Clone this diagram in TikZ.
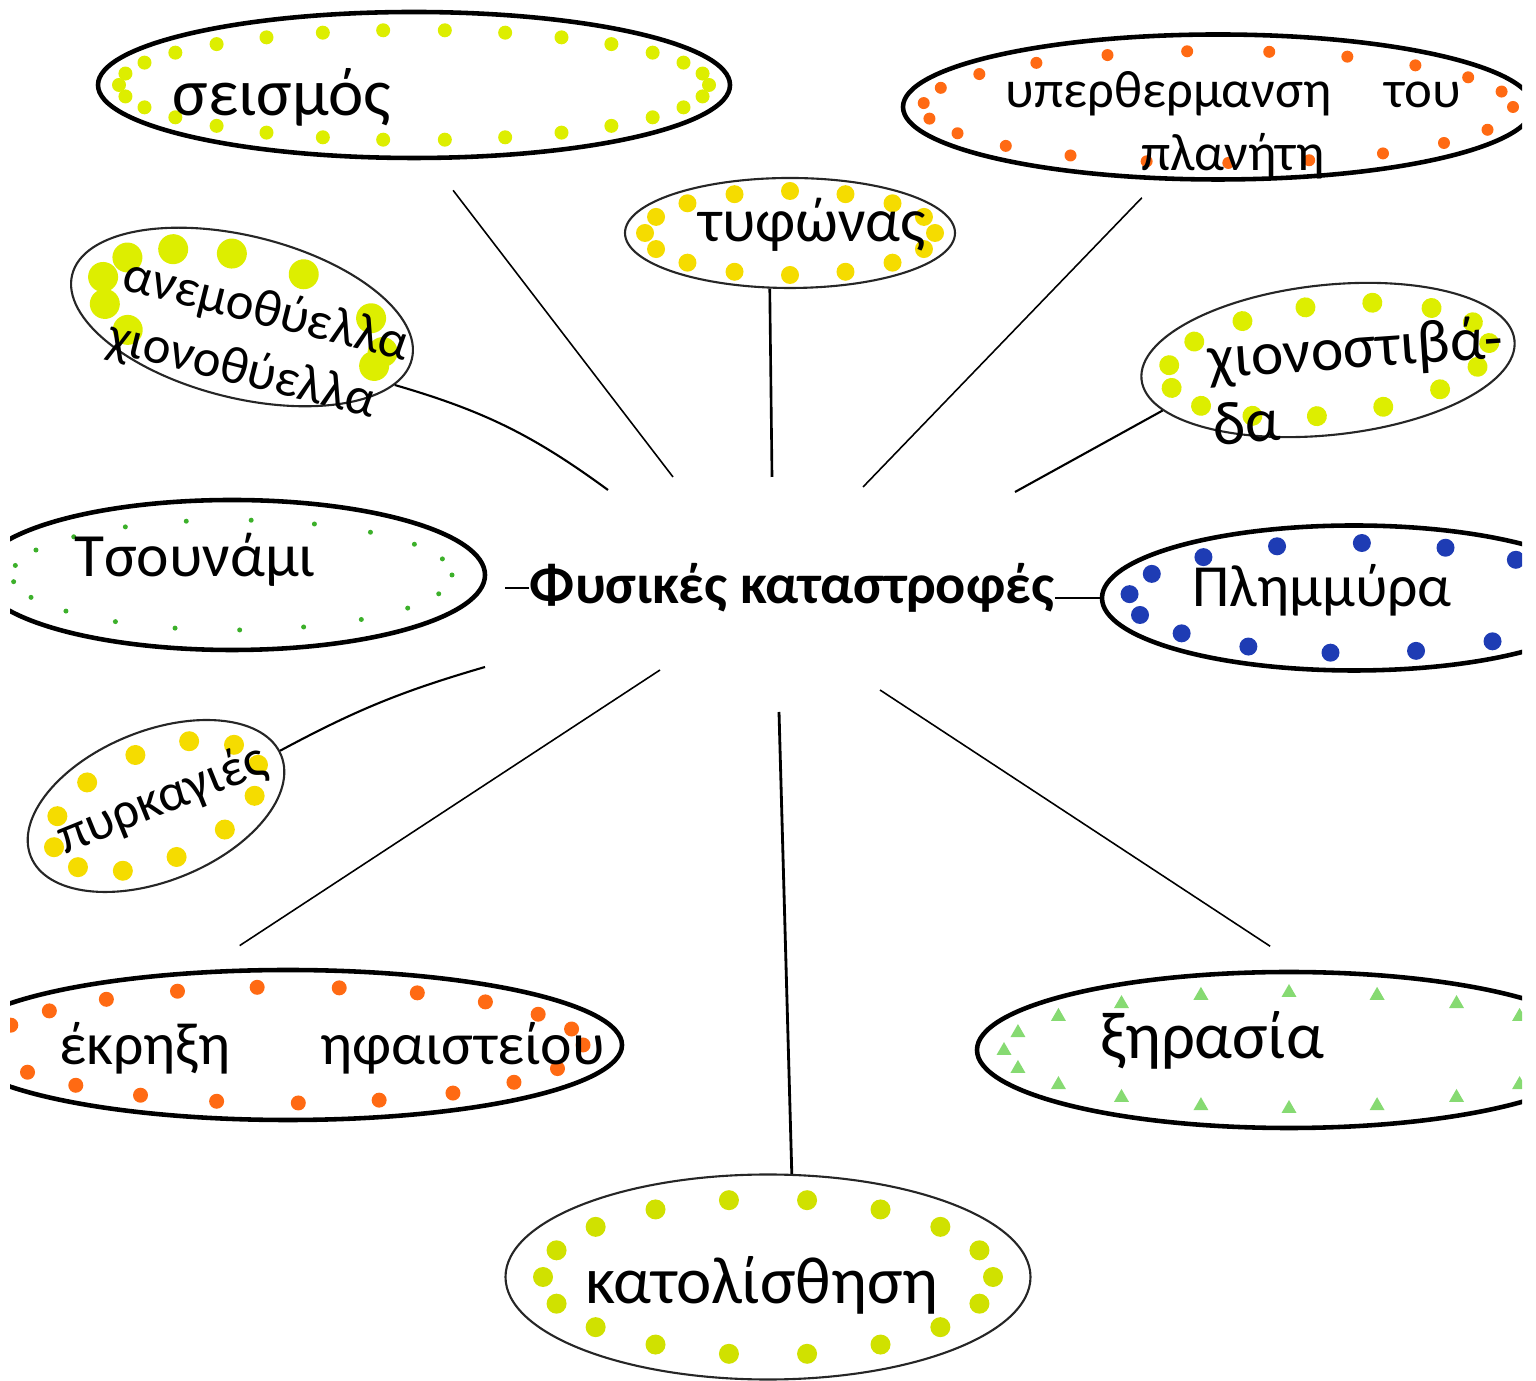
\documentclass[tikz,border=0pt]{standalone}
\usepackage{fontspec}
\setmainfont{Carlito}
\usetikzlibrary{shapes.geometric}

\definecolor{limedot}{HTML}{DDEE00}
\definecolor{yellowdot}{HTML}{F5DC00}
\definecolor{orangedot}{HTML}{FF6A13}
\definecolor{bluedot}{HTML}{1E3CB4}
\definecolor{greenspeck}{HTML}{3CB02A}
\definecolor{greentri}{HTML}{86DA72}

\tikzset{
    bubble/.style={ellipse, draw=black, line width=1.3pt, inner sep=0pt},
    thinbubble/.style={ellipse, draw=black!85, line width=0.6pt, inner sep=0pt},
    hand/.style={font=\fontsize{19}{23}\selectfont, inner sep=0pt, align=left},
    smallhand/.style={hand, font=\fontsize{15}{18}\selectfont},
    stroke/.style={draw=black, line width=0.45pt},
}

% ring of marker spots round a bubble
\newcommand{\spotring}[6]{%
    \begin{scope}[shift={(#1.center)}, rotate=#2]
        \foreach \a in {#5} \fill[#6] (\a:#3 and #4) circle;
    \end{scope}}

\begin{document}
\begin{tikzpicture}
    \useasboundingbox (0,0) rectangle (15.36,13.80);
    \clip (0.10,0) rectangle (15.22,13.80);

    \begin{scope}[every node/.style={bubble}]
        \node[minimum width=6.32cm, minimum height=1.46cm] (seismos) at (4.14,12.95) {};
        \node[minimum width=6.30cm, minimum height=1.45cm] (hyper) at (12.18,12.73) {};
        \node[minimum width=5.06cm, minimum height=1.50cm] (tsunami) at (2.32,8.05) {};
        \node[minimum width=5.04cm, minimum height=1.45cm] (plimm) at (13.54,7.82) {};
        \node[minimum width=6.68cm, minimum height=1.50cm] (ekrixi) at (2.88,3.35) {};
        \node[minimum width=6.24cm, minimum height=1.56cm] (xirasia) at (12.89,3.30) {};
    \end{scope}

    \begin{scope}[every node/.style={thinbubble}]
        \node[minimum width=3.30cm, minimum height=1.10cm] (tyfonas) at (7.90,11.47) {};
        \node[minimum width=3.50cm, minimum height=1.62cm, rotate=-14] (anemo) at (2.42,10.63) {};
        \node[minimum width=3.75cm, minimum height=1.50cm, rotate=6] (chion) at (13.28,10.20) {};
        \node[minimum width=2.70cm, minimum height=1.50cm, rotate=22] (pyrk) at (1.56,5.74) {};
        \node[minimum width=5.25cm, minimum height=2.05cm] (katol) at (7.68,1.03) {};
    \end{scope}

    % marker spots
    \spotring{seismos}{0}{2.95}{0.55}{0,12,...,348}{limedot, radius=0.07}
    \spotring{hyper}{0}{2.95}{0.56}{0,16,...,344}{orangedot, radius=0.06}
    \spotring{tyfonas}{0}{1.45}{0.42}{0,22.5,...,340}{yellowdot, radius=0.09}
    \spotring{anemo}{-14}{1.45}{0.60}{0,30,70,100,125,150,175,200,222,345}{limedot, radius=0.15}
    \spotring{chion}{6}{1.62}{0.55}{0,24,...,340}{limedot, radius=0.1}
    \spotring{tsunami}{0}{2.20}{0.55}{0,17,...,350}{greenspeck, radius=0.025}
    \spotring{plimm}{0}{2.25}{0.55}{0,22,...,340}{bluedot, radius=0.09}
    \spotring{pyrk}{22}{1.10}{0.55}{0,30,...,330}{yellowdot, radius=0.1}
    \spotring{ekrixi}{0}{2.95}{0.58}{0,16,...,344}{orangedot, radius=0.075}
    \spotring{katol}{0}{2.25}{0.78}{0,20,...,340}{yellowdot!85!green, radius=0.1}
    \begin{scope}[shift={(xirasia.center)}]
        \foreach \a in {0,18,...,342}
            \fill[greentri] (\a:2.85 and 0.58) ++(0,0.08) -- ++(-0.075,-0.13) -- ++(0.15,0) -- cycle;
    \end{scope}

    % labels
    \begin{scope}[every node/.style={hand}]
        \node (seismos-txt) at (2.82,12.83) {σεισμός};
        \node[smallhand, align=center] (hyper-txt) at (12.33,12.55) {υπερθερμανση\quad του\\πλανήτη};
        \node[font=\fontsize{17.5}{21}\selectfont] (tyfonas-txt) at (8.12,11.55) {τυφώνας};
        \node[smallhand, rotate=-14] (anemo-txt) at (2.58,10.38) {ανεμοθύελλα\\χιονοθύελλα};
        \node[font=\fontsize{17.5}{19}\selectfont, rotate=4] (chion-txt) at (13.58,10.00) {χιονοστιβά-\\δα};
        \node[font=\fontsize{17.5}{21}\selectfont] (tsunami-txt) at (1.95,8.20) {Τσουνάμι};
        \node[font=\fontsize{17}{21}\selectfont] (plimm-txt) at (13.22,7.90) {Πλημμύρα};
        \node[smallhand, rotate=22] (pyrk-txt) at (1.62,5.80) {πυρκαγιές};
        \node[font=\fontsize{17}{21}\selectfont] (ekrixi-txt) at (3.32,3.32) {έκρηξη\hspace{0.9cm}ηφαιστείου};
        \node (xirasia-txt) at (12.12,3.40) {ξηρασία};
        \node (katol-txt) at (7.62,0.95) {κατολίσθηση};
    \end{scope}

    \node[font=\fontsize{16}{19}\selectfont\bfseries, inner sep=0pt] (hub) at (7.92,7.92) {Φυσικές καταστροφές};

    % spokes
    \coordinate (h-seismos) at (6.73,9.03);
    \coordinate (h-tyfonas) at (7.72,9.03);
    \coordinate (h-hyper) at (8.63,8.93);
    \coordinate (h-anemo) at (6.08,8.90);
    \coordinate (h-chion) at (10.15,8.88);
    \coordinate (h-tsunami) at (5.05,7.92);
    \coordinate (h-pyrk) at (4.85,7.13);
    \coordinate (h-ekrixi) at (6.60,7.10);
    \coordinate (h-katol) at (7.79,6.68);
    \coordinate (h-xirasia) at (8.80,6.90);

    \draw[stroke, shorten <=0.38cm] (seismos.282) -- (h-seismos);
    \draw[stroke, line width=0.75pt] (tyfonas.250) -- (h-tyfonas);
    \draw[stroke, shorten <=0.24cm] (hyper.231) -- (h-hyper);
    \draw[stroke, line width=0.6pt] (anemo.350) to[bend left=10] (h-anemo);
    \draw[stroke, line width=0.6pt] (chion.191) -- (h-chion);
    \draw[stroke, line width=0.6pt] (hub.west) -- (h-tsunami);
    \draw[stroke, line width=0.6pt] (hub.east |- plimm.west) -- (plimm.west);
    \draw[stroke, line width=0.6pt] (pyrk.2) to[bend left=6] (h-pyrk);
    \draw[stroke, shorten <=0.45cm] (ekrixi.139) -- (h-ekrixi);
    \draw[stroke, line width=0.8pt] (katol.77) -- (h-katol);
    \draw[stroke, shorten <=0.43cm] (xirasia.78) -- (h-xirasia);
\end{tikzpicture}
\end{document}
